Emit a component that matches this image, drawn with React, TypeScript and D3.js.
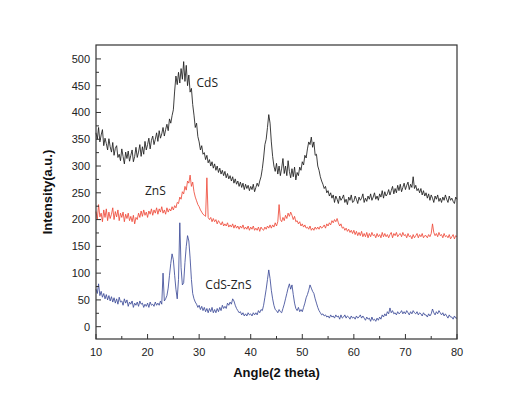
import React from "react";
import * as d3 from "d3";

const ANGLE_START = 10;
const ANGLE_STEP = 0.25;

const cdsValues = [
  362, 350, 372, 345, 358, 368, 338, 352, 342, 330, 351, 336, 326, 344, 320, 333,
  338, 316, 322, 310, 332, 318, 304, 326, 314, 328, 309, 320, 330, 308, 318, 335,
  316, 326, 340, 318, 336, 322, 346, 330, 340, 352, 332, 348, 356, 340, 350, 362,
  346, 366, 352, 360, 372, 356, 368, 378, 366, 388, 380, 394, 405, 440, 468, 452,
  475, 455, 482, 462, 495, 458, 488, 450, 470, 438, 445, 415, 395, 372, 380, 355,
  345, 330, 338, 322, 325, 312, 320, 306, 312, 300, 308, 296, 304, 292, 300, 288,
  296, 285, 292, 282, 290, 278, 286, 276, 282, 272, 280, 268, 276, 266, 272, 262,
  270, 260, 268, 256, 266, 258, 264, 254, 262, 256, 266, 252, 260, 268, 262, 272,
  280, 295, 315, 340, 350, 372, 396, 380, 345, 318, 300, 290, 305, 285, 300, 282,
  296, 314, 286, 300, 282, 310, 290, 278, 295, 280, 298, 274, 288, 282, 298, 292,
  308, 302, 320, 315, 332, 345, 340, 354, 335, 345, 320, 322, 300, 292, 280, 272,
  266, 258, 262, 250, 254, 244, 250, 240, 246, 232, 244, 238, 230, 244, 236, 240,
  246, 232, 238, 228, 242, 236, 246, 232, 234, 244, 238, 230, 242, 236, 240, 248,
  232, 240, 234, 244, 238, 248, 236, 242, 250, 238, 244, 236, 248, 242, 254, 240,
  252, 244, 248, 256, 246, 254, 262, 248, 258, 250, 264, 254, 266, 252, 260, 268,
  256, 264, 270, 256, 266, 260, 280, 258, 264, 254, 258, 250, 258, 246, 254, 244,
  250, 240, 248, 236, 246, 240, 232, 244, 238, 246, 234, 240, 232, 242, 236, 246,
  238, 232, 244, 236, 240, 234, 230, 242, 238,
];

const znsValues = [
  215, 200, 228, 205, 212, 196, 218, 204, 220, 198, 214, 202, 210, 222, 200, 215,
  205, 218, 198, 212, 204, 214, 196, 210, 202, 212, 198, 206, 196, 208, 192, 204,
  200, 212, 204, 216, 206, 218, 208, 214, 204, 216, 210, 220, 208, 218, 212, 222,
  210, 220, 214, 224, 212, 218, 210, 222, 214, 220, 216, 224, 218, 226, 222, 232,
  230, 242, 238, 252, 248, 262, 255, 272, 268, 283, 262, 270, 252, 242, 235, 228,
  224, 218, 214, 210, 208, 206, 278, 204, 200, 204, 196, 202, 196, 200, 192, 198,
  194, 190, 196, 188, 192, 188, 194, 186, 190, 186, 192, 184, 190, 184, 188, 182,
  188, 184, 190, 182, 186, 182, 188, 180, 186, 182, 188, 180, 184, 180, 186, 178,
  186, 182, 180, 186, 182, 188, 184, 190, 184, 190, 186, 194, 188, 196, 228, 200,
  196, 204, 198, 208, 202, 212, 206, 214, 208, 200, 206, 196, 198, 192, 196, 188,
  192, 186, 190, 184, 186, 182, 188, 180, 184, 180, 186, 182, 186, 182, 188, 184,
  186, 190, 184, 192, 188, 194, 190, 198, 194, 200, 196, 202, 194, 188, 192, 184,
  186, 180, 184, 178, 182, 176, 180, 174, 180, 172, 178, 170, 176, 170, 178, 168,
  174, 168, 176, 166, 174, 168, 176, 170, 172, 166, 174, 168, 172, 166, 176, 168,
  174, 168, 172, 166, 172, 176, 166, 174, 170, 176, 168, 172, 174, 168, 176, 170,
  172, 166, 174, 168, 170, 164, 172, 166, 170, 174, 166, 172, 168, 174, 166, 170,
  170, 166, 172, 168, 174, 192, 176, 170, 174, 168, 176, 170, 172, 166, 174, 168,
  170, 166, 172, 164, 168, 172, 164, 170, 168,
];

const cdsZnsValues = [
  70, 62, 80, 58, 66, 55, 62, 52, 60, 50, 58, 48, 56, 46, 54, 44,
  52, 42, 55, 46, 48, 40, 52, 44, 50, 38, 46, 42, 48, 36, 44, 40,
  46, 38, 48, 42, 44, 36, 42, 38, 44, 36, 46, 40, 42, 38, 46, 40,
  44, 40, 48, 42, 100, 48, 52, 58, 72, 96, 118, 136, 125, 96, 70, 52,
  88, 194, 110, 78, 82, 120, 150, 170, 160, 128, 88, 62, 52, 46, 42, 36,
  40, 32, 38, 30, 36, 28, 34, 26, 34, 28, 36, 26, 32, 26, 34, 28,
  36, 30, 40, 34, 38, 34, 44, 40, 46, 42, 52, 48, 40, 34, 30, 26,
  28, 22, 26, 20, 24, 20, 26, 22, 24, 20, 26, 22, 26, 22, 30, 26,
  32, 30, 40, 55, 70, 88, 106, 90, 68, 52, 40, 32, 30, 26, 32, 28,
  26, 34, 42, 52, 62, 72, 80, 70, 78, 60, 44, 34, 30, 36, 28, 32,
  28, 36, 44, 54, 60, 68, 78, 72, 66, 62, 52, 44, 36, 30, 26, 22,
  24, 20, 22, 18, 20, 16, 22, 18, 20, 16, 22, 18, 20, 14, 22, 16,
  18, 22, 16, 20, 18, 14, 20, 16, 18, 14, 20, 16, 18, 22, 16, 20,
  16, 12, 18, 14, 16, 10, 18, 12, 14, 10, 16, 12, 18, 14, 22, 18,
  24, 20, 28, 24, 35, 26, 30, 24, 26, 22, 28, 24, 26, 30, 24, 28,
  24, 30, 26, 22, 28, 24, 30, 26, 24, 28, 22, 26, 24, 20, 26, 22,
  22, 18, 24, 20, 24, 33, 26, 22, 28, 24, 30, 26, 22, 26, 20, 24,
  20, 16, 22, 18, 18, 14, 20, 16, 16,
];

const xTicks = [10, 20, 30, 40, 50, 60, 70, 80];
const xMinorTicks = [15, 25, 35, 45, 55, 65, 75];
const yTicks = [0, 50, 100, 150, 200, 250, 300, 350, 400, 450, 500];
const yMinorTicks = [25, 75, 125, 175, 225, 275, 325, 375, 425, 475];

const series = [
  { name: "CdS", values: cdsValues, color: "#1c1c1c", label: { x: 29.5, y: 448 } },
  { name: "ZnS", values: znsValues, color: "#ef4a3a", label: { x: 19.5, y: 246 } },
  { name: "CdS-ZnS", values: cdsZnsValues, color: "#3d4b98", label: { x: 31.2, y: 70 } },
];

const W = 516;
const H = 408;
const M = { left: 96, right: 59, top: 45, bottom: 69 };

export default function App() {
  const x = d3.scaleLinear().domain([10, 80]).range([M.left, W - M.right]);
  const y = d3.scaleLinear().domain([-23, 526]).range([H - M.bottom, M.top]);
  const line = d3
    .line<number>()
    .x((_, i) => x(ANGLE_START + i * ANGLE_STEP))
    .y((d) => y(d));
  const font = "Liberation Sans, Arial, sans-serif";
  const x0 = M.left;
  const y0 = H - M.bottom;
  return (
    <svg
      width={W}
      height={H}
      style={{ position: "absolute", left: 0, top: 0, background: "#fff" }}
      fontFamily={font}
    >
      <rect x={0} y={0} width={W} height={H} fill="#fff" />
      {series.map((s) => (
        <path key={s.name} d={line(s.values) || ""} fill="none" stroke={s.color} strokeWidth={0.85} />
      ))}
      {series.map((s) => (
        <text
          key={s.name + "-l"}
          x={x(s.label.x)}
          y={y(s.label.y)}
          fontSize={12}
          fill="#222"
          fontFamily="Open Sans, Liberation Sans, sans-serif"
        >
          {s.name}
        </text>
      ))}
      <rect
        x={x0}
        y={M.top}
        width={W - M.right - M.left}
        height={H - M.bottom - M.top}
        fill="none"
        stroke="#333"
        strokeWidth={1.2}
      />
      {yTicks.map((t) => (
        <g key={"y" + t}>
          <line x1={x0} x2={x0 + 5} y1={y(t)} y2={y(t)} stroke="#333" strokeWidth={1} />
          <text x={x0 - 6} y={y(t)} dy="0.35em" textAnchor="end" fontSize={11} fill="#222">
            {t}
          </text>
        </g>
      ))}
      {yMinorTicks.map((t) => (
        <line key={"ym" + t} x1={x0} x2={x0 + 3} y1={y(t)} y2={y(t)} stroke="#333" strokeWidth={1} />
      ))}
      {xTicks.map((t) => (
        <g key={"x" + t}>
          <line x1={x(t)} x2={x(t)} y1={y0} y2={y0 - 5} stroke="#333" strokeWidth={1} />
          <text x={x(t)} y={y0 + 17} textAnchor="middle" fontSize={11} fill="#222">
            {t}
          </text>
        </g>
      ))}
      {xMinorTicks.map((t) => (
        <line key={"xm" + t} x1={x(t)} x2={x(t)} y1={y0} y2={y0 - 3} stroke="#333" strokeWidth={1} />
      ))}
      <text
        x={(M.left + W - M.right) / 2}
        y={377}
        textAnchor="middle"
        fontSize={13}
        fontWeight="bold"
        fill="#111"
      >
        Angle(2 theta)
      </text>
      <text
        transform={`translate(52, ${(M.top + H - M.bottom) / 2}) rotate(-90)`}
        textAnchor="middle"
        fontSize={13}
        fontWeight="bold"
        fill="#111"
      >
        Intensity(a.u.)
      </text>
    </svg>
  );
}
